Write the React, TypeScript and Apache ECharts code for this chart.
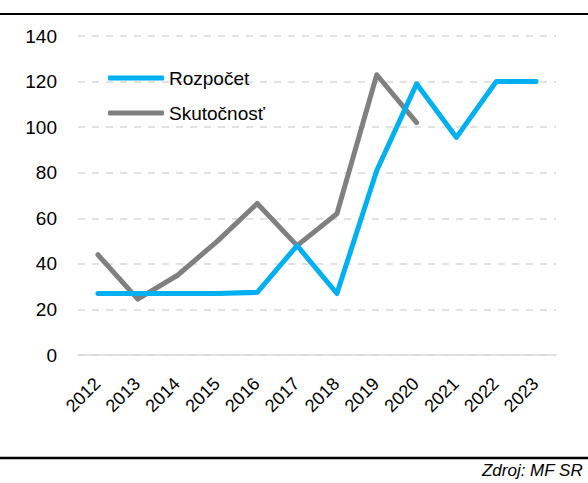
import React, { useEffect, useRef } from "react";
import * as echarts from "echarts";

const years = ["2012", "2013", "2014", "2015", "2016", "2017", "2018", "2019", "2020", "2021", "2022", "2023"];
const rozpocet = [27, 27, 27, 27, 27.5, 48, 27, 81, 119, 95.5, 120, 120];
const skutocnost = [44, 24.5, 35, 50, 66.5, 48, 62, 123, 102, null, null, null];
const yTicks = { min: 0, max: 140, interval: 20 };

export default function App() {
  const ref = useRef<HTMLDivElement>(null);
  useEffect(() => {
    const chart = echarts.init(ref.current!, null, { renderer: "svg" });
    const font = "'Liberation Sans', Arial, sans-serif";
    chart.setOption({
      animation: false,
      backgroundColor: "#fff",
      textStyle: { fontFamily: font },
      grid: { left: 78, right: 32, top: 36, bottom: 128, containLabel: false },
      legend: {
        orient: "vertical",
        left: 108,
        top: 67,
        padding: 0,
        itemWidth: 56,
        itemHeight: 5,
        itemGap: 13,
        icon: "roundRect",
        textStyle: { fontSize: 19, color: "#000", fontFamily: font, lineHeight: 22 },
        data: ["Rozpočet", "Skutočnosť"],
      },
      xAxis: {
        type: "category",
        data: years,
        boundaryGap: true,
        axisLine: { show: true, lineStyle: { color: "#D9D9D9", width: 1.5 } },
        axisTick: { show: false },
        axisLabel: {
          rotate: 45,
          fontSize: 18,
          color: "#000",
          margin: 25,
          padding: [0, 1, 0, 0],
          fontFamily: font,
          interval: 0,
        },
      },
      yAxis: {
        type: "value",
        min: yTicks.min,
        max: yTicks.max,
        interval: yTicks.interval,
        axisLine: { show: false },
        axisTick: { show: false },
        splitLine: { show: true, lineStyle: { color: "#D9D9D9", width: 1.5, type: [7, 7] } },
        axisLabel: { fontSize: 19, color: "#000", margin: 21, fontFamily: font },
      },
      series: [
        {
          name: "Rozpočet",
          type: "line",
          data: rozpocet,
          symbol: "none",
          color: "#00B0F0",
          lineStyle: { width: 5, color: "#00B0F0", cap: "round", join: "round" },
          z: 3,
        },
        {
          name: "Skutočnosť",
          type: "line",
          data: skutocnost,
          symbol: "none",
          color: "#808080",
          lineStyle: { width: 5, color: "#808080", cap: "round", join: "round" },
          z: 2,
        },
      ],
      graphic: [
        { type: "line", shape: { x1: 0, y1: 14, x2: 588, y2: 14 }, style: { stroke: "#000", lineWidth: 2 } },
        { type: "line", shape: { x1: 0, y1: 458, x2: 588, y2: 458 }, style: { stroke: "#000", lineWidth: 2.5 } },
        {
          type: "text",
          right: 5,
          top: 462,
          style: { text: "Zdroj: MF SR", font: `italic 17px ${font}`, fill: "#000" },
        },
      ],
    });
    return () => chart.dispose();
  }, []);
  return <div ref={ref} style={{ position: "fixed", left: 0, top: 0, width: 588, height: 483 }} />;
}
